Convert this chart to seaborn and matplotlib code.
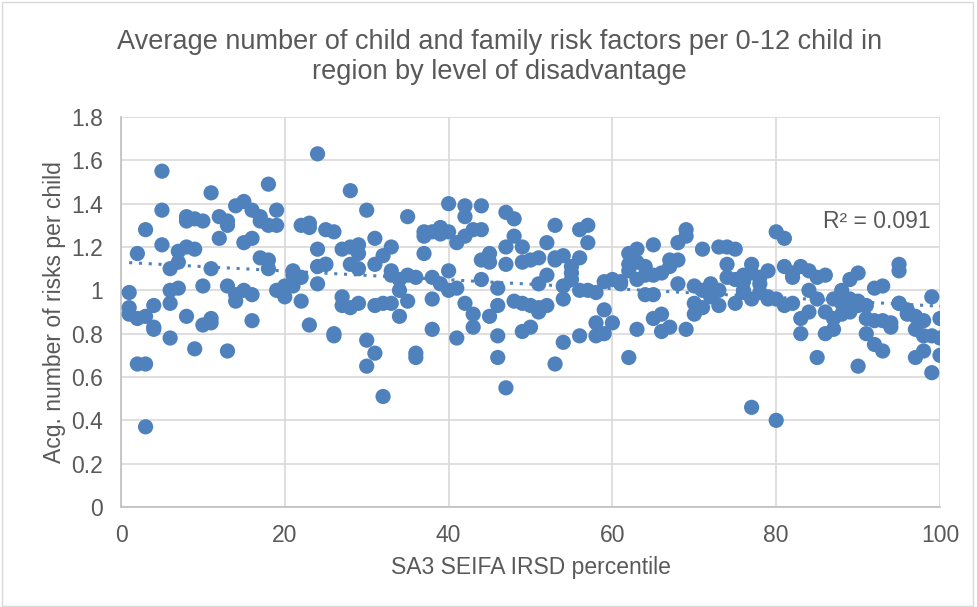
import numpy as np
import pandas as pd
import matplotlib
matplotlib.use("Agg")
import matplotlib.pyplot as plt
import seaborn as sns

# Risk values per percentile
risk_by_pct = {
    1: [0.99, 0.92, 0.89], 2: [1.17, 0.87, 0.66], 3: [1.28, 0.88, 0.66, 0.37],
    4: [0.93, 0.83, 0.82], 5: [1.55, 1.37, 1.21], 6: [1.10, 1.00, 0.94, 0.78],
    7: [1.18, 1.13, 1.01], 8: [1.34, 1.32, 1.20, 0.88], 9: [1.33, 1.19, 0.73],
    10: [1.32, 1.02, 0.84], 11: [1.45, 1.10, 0.87, 0.85], 12: [1.34, 1.24],
    13: [1.32, 1.30, 1.02, 0.72], 14: [1.39, 0.98, 0.95], 15: [1.41, 1.22, 1.00],
    16: [1.37, 1.24, 0.98, 0.86], 17: [1.34, 1.32, 1.15], 18: [1.49, 1.30, 1.14, 1.10],
    19: [1.37, 1.30, 1.00], 20: [0.97, 1.02], 21: [1.09, 1.07, 1.02],
    22: [1.30, 1.06, 0.95], 23: [1.31, 1.29, 0.84], 24: [1.63, 1.19, 1.11, 1.03],
    25: [1.28, 1.12, 1.12], 26: [1.27, 0.80, 0.79], 27: [1.19, 0.97, 0.93],
    28: [1.46, 1.20, 1.12, 0.92], 29: [1.21, 1.17, 1.10, 0.94], 30: [1.37, 0.77, 0.65],
    31: [1.24, 1.12, 0.93, 0.71], 32: [1.16, 0.94, 0.51], 33: [1.20, 1.09, 1.07, 0.94],
    34: [1.05, 1.00, 0.88], 35: [1.34, 1.07, 0.95], 36: [1.06, 0.71, 0.69],
    37: [1.27, 1.25, 1.17], 38: [1.27, 1.06, 0.96, 0.82], 39: [1.29, 1.26, 1.03],
    40: [1.40, 1.27, 1.09, 1.00], 41: [1.22, 1.01, 0.78], 42: [1.39, 1.34, 1.25, 0.94],
    43: [1.28, 0.89, 0.83], 44: [1.39, 1.28, 1.14, 1.05], 45: [1.17, 1.13, 0.88],
    46: [1.01, 0.93, 0.79, 0.69], 47: [1.36, 1.20, 1.12, 0.55], 48: [1.33, 1.25, 0.95],
    49: [1.20, 1.13, 0.94, 0.81], 50: [1.14, 0.93, 0.83], 51: [1.15, 1.03, 0.90, 0.92],
    52: [1.22, 1.07, 0.93], 53: [1.30, 1.14, 1.15, 0.66], 54: [1.16, 1.02, 0.96, 0.76],
    55: [1.08, 1.11, 1.05], 56: [1.28, 1.15, 1.00, 0.79], 57: [1.30, 1.22, 1.00],
    58: [0.99, 0.85, 0.79], 59: [1.04, 0.91, 0.80], 60: [1.05, 0.85],
    61: [1.03, 1.04], 62: [1.17, 1.12, 1.09, 0.69], 63: [1.19, 1.13, 1.05, 0.82],
    64: [1.11, 1.07, 0.98], 65: [1.21, 1.07, 0.98, 0.87], 66: [1.08, 0.89, 0.81],
    67: [1.14, 1.11, 0.83], 68: [1.22, 1.14, 1.03], 69: [1.28, 1.25, 0.82],
    70: [1.02, 0.94, 0.89], 71: [1.19, 1.00, 0.92], 72: [1.03, 0.97],
    73: [1.20, 1.00, 0.93], 74: [1.20, 1.12, 1.06], 75: [1.19, 1.05, 0.94],
    76: [1.07, 1.04, 1.00, 0.99], 77: [1.12, 1.08, 0.96, 0.46], 78: [1.06, 1.03, 0.99],
    79: [1.09, 0.97, 0.96], 80: [1.27, 0.96, 0.40], 81: [1.24, 1.11, 0.93],
    82: [1.06, 1.08, 0.94], 83: [1.11, 0.87, 0.80], 84: [1.09, 1.00, 0.90],
    85: [1.06, 0.96, 0.69], 86: [1.07, 0.90, 0.80], 87: [0.96, 0.87, 0.82],
    88: [1.00, 0.94, 0.89], 89: [1.05, 0.96, 0.90], 90: [1.08, 0.95, 0.93, 0.65],
    91: [0.93, 0.87, 0.80], 92: [1.01, 0.86, 0.75], 93: [1.02, 0.86, 0.72],
    94: [0.85, 0.83], 95: [1.12, 1.09, 0.94, 0.94], 96: [0.91, 0.89],
    97: [0.88, 0.82, 0.69], 98: [0.86, 0.79, 0.72], 99: [0.97, 0.79, 0.62],
    100: [0.87, 0.78, 0.70],
}
percentile = [p for p, vals in risk_by_pct.items() for _ in vals]
risk = [v for vals in risk_by_pct.values() for v in vals]

x_ticks = [0, 20, 40, 60, 80, 100]
y_ticks = [0, 0.2, 0.4, 0.6, 0.8, 1, 1.2, 1.4, 1.6, 1.8]
y_tick_labels = ["0", "0.2", "0.4", "0.6", "0.8", "1", "1.2", "1.4", "1.6", "1.8"]
title = "Average number of child and family risk factors per 0-12 child in\nregion by level of disadvantage"
r2_label = "R² = 0.091"

sns.set_theme(style="white")
plt.rcParams["font.family"] = ["Liberation Sans", "DejaVu Sans"]
text_col = "#595959"
pt_col = "#4F81BD"

df = pd.DataFrame({"percentile": percentile, "risk": risk})

fig = plt.figure(figsize=(9.77, 6.07), dpi=100)
ax = fig.add_axes([121/977, 1-507/607, (940-121)/977, (507-117)/607])

sns.scatterplot(data=df, x="percentile", y="risk", ax=ax, s=120, color=pt_col,
                edgecolor="none", linewidth=0, zorder=3, legend=False)

# linear trendline
coef = np.polyfit(df["percentile"], df["risk"], 1)
xs = np.array([min(percentile), max(percentile)])
ax.plot(xs, np.polyval(coef, xs), linestyle=(0, (1, 2.2)), color=pt_col, lw=2.2, zorder=4)

ax.set_xlim(0, 100)
ax.set_ylim(0, 1.8)
ax.set_xticks(x_ticks)
ax.set_yticks(y_ticks)
ax.set_yticklabels(y_tick_labels)
ax.grid(True, color="#d9d9d9", lw=1.2)
ax.set_axisbelow(True)
for s in ["top", "right"]:
    ax.spines[s].set_visible(False)
for s in ["left", "bottom"]:
    ax.spines[s].set_color("#bfbfbf")
    ax.spines[s].set_linewidth(1.2)
ax.tick_params(axis="y", labelsize=16.5, colors=text_col, length=0, pad=13)
ax.tick_params(axis="x", labelsize=16.5, colors=text_col, length=0, pad=12)
ax.set_xlabel("SA3 SEIFA IRSD percentile", fontsize=16.5, color=text_col, labelpad=7)
ax.set_ylabel("Acg. number of risks per child", fontsize=16.5, color=text_col, labelpad=4)

fig.text(0.511, 1-57/607, title, ha="center", va="center", fontsize=19.5, color=text_col, linespacing=1.2)
ax.text(0.923, 0.733, r2_label, transform=ax.transAxes, ha="center", va="center",
        fontsize=16.5, color=text_col)

border = plt.Rectangle((0.002, 0.002), 0.994, 0.994, transform=fig.transFigure,
                       fill=False, edgecolor="#d9d9d9", lw=1)
fig.patches.append(border)

fig.savefig("out.png", dpi=100)
